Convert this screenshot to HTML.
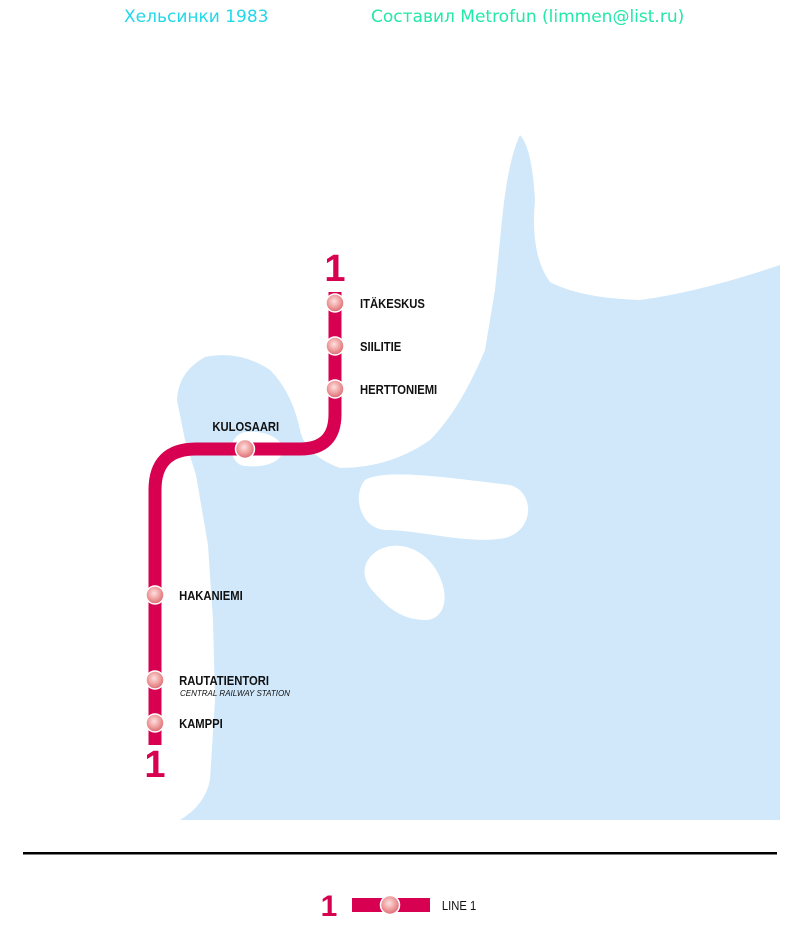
<!DOCTYPE html>
<html><head><meta charset="utf-8"><style>
body{margin:0;background:#fff;width:800px;height:950px;overflow:hidden;position:relative;font-family:"Liberation Sans",sans-serif}
.t{position:absolute;font-family:"DejaVu Sans","Liberation Sans",sans-serif;font-size:17px}
</style></head><body>
<div class="t" style="left:124px;top:7px;color:#22d8e8">Хельсинки 1983</div>
<div class="t" style="left:371px;top:7px;color:#22e8a8">Составил Metrofun (limmen@list.ru)</div>
<svg width="800" height="950" style="position:absolute;left:0;top:0">
<defs><radialGradient id="g" cx="0.45" cy="0.4" r="0.6"><stop offset="0" stop-color="#fde0e0"/><stop offset="0.6" stop-color="#ee9a9a"/><stop offset="1" stop-color="#d86a72"/></radialGradient></defs>
<path fill="#d0e8fa" d="M180,820 Q205,805 210,780 L215,700 L213,620 L208,545 L196,475 L185,440 L177,400 Q178,372 205,357 Q240,350 270,370 Q292,392 300,430 Q305,455 340,468 Q390,468 430,440 Q460,410 485,350 L495,290 L502,220 Q508,160 520,135 Q532,148 535,200 Q530,255 550,282 Q580,298 640,300 Q700,292 780,265 L780,820 Z"/>
<path fill="#fff" d="M245,432 C265,430 282,438 283,450 C282,462 265,468 245,466 C228,464 226,436 245,432 Z"/>
<path fill="#fff" d="M365,480 C385,468 450,478 510,485 C535,492 535,530 505,538 C470,545 420,530 385,530 C360,528 352,495 365,480 Z"/>
<path fill="#fff" d="M372,555 C390,538 420,545 435,568 C452,595 445,620 425,620 C400,620 385,605 372,590 C362,578 362,565 372,555 Z"/>
<path d="M155,745 L155,490 Q155,449 196,449 L300,449 Q335,449 335,414 L335,292" fill="none" stroke="#d80050" stroke-width="13"/>
<g fill="url(#g)" stroke="#fff" stroke-width="1.5">
<circle cx="335" cy="303" r="9"/><circle cx="335" cy="346" r="9"/><circle cx="335" cy="389" r="9"/>
<circle cx="245" cy="449" r="9.5"/><circle cx="155" cy="595" r="9"/><circle cx="155" cy="680" r="9"/><circle cx="155" cy="723" r="9"/>
</g>
<g font-family="Liberation Sans" font-weight="bold" fill="#d80050" font-size="38">
<text x="335" y="281" text-anchor="middle">1</text>
<text x="155" y="777" text-anchor="middle">1</text>
<text x="329" y="916" text-anchor="middle" font-size="30">1</text>
</g>
<g font-family="Liberation Sans" font-size="12.5" fill="#111" font-weight="bold" transform="scale(0.9,1)">
<text x="400" y="308">ITÄKESKUS</text>
<text x="400" y="351">SIILITIE</text>
<text x="400" y="394">HERTTONIEMI</text>
<text x="236" y="431">KULOSAARI</text>
<text x="199" y="600">HAKANIEMI</text>
<text x="199" y="685">RAUTATIENTORI</text>
<text x="199" y="728">KAMPPI</text>
<text x="491" y="910" font-weight="normal">LINE 1</text>
</g>
<text x="180" y="696" font-family="Liberation Sans" font-style="italic" font-size="8" fill="#111">CENTRAL RAILWAY STATION</text>
<rect x="23" y="852" width="754" height="2.5" fill="#000"/>
<rect x="352" y="898" width="78" height="14" fill="#d80050"/>
<circle cx="390" cy="905" r="9.5" fill="url(#g)" stroke="#fff" stroke-width="1.5"/>
</svg>
</body></html>
